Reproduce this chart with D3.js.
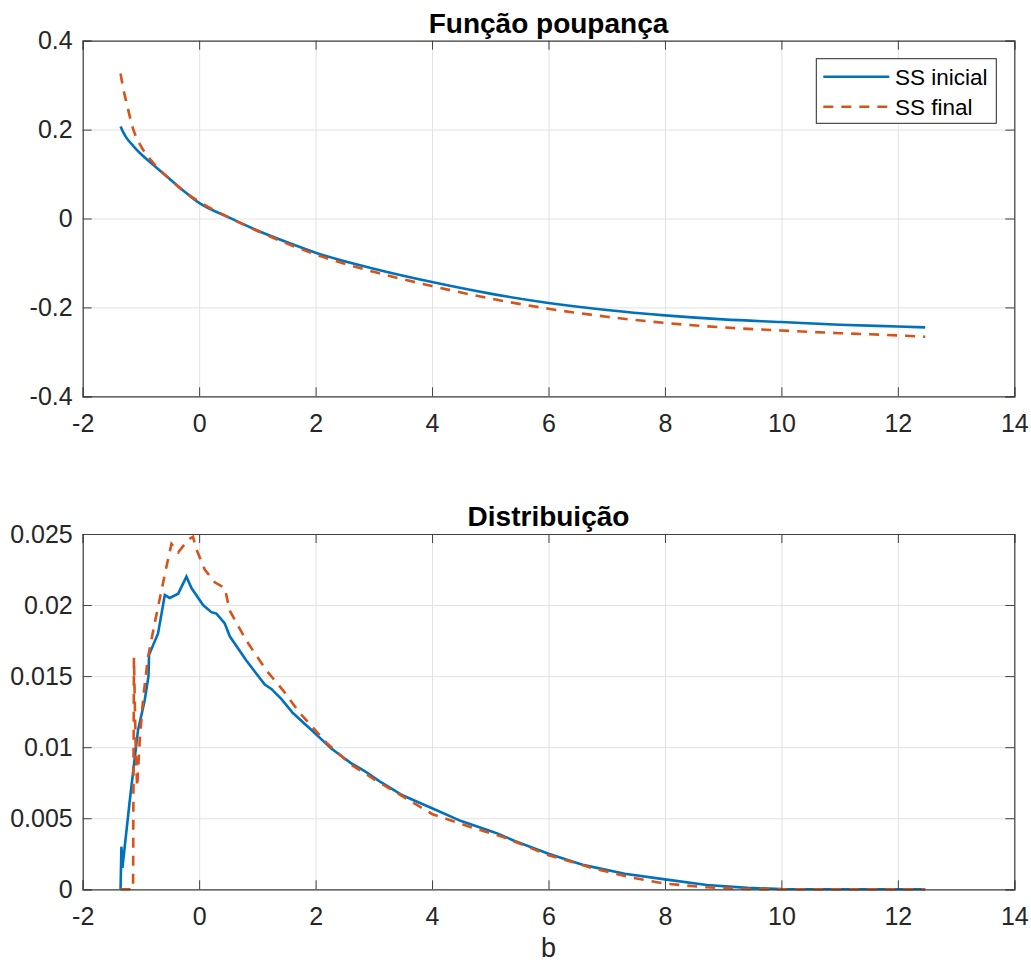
<!DOCTYPE html>
<html>
<head>
<meta charset="utf-8">
<script src="https://cdn.jsdelivr.net/npm/d3@7"></script>
<style>
  body { margin: 0; background: #fff; }
  svg { font-family: "Liberation Sans", Arial, Helvetica, sans-serif; }
  .axis path, .axis line { stroke: #404040; }
  .axis text { fill: #262626; font-size: 25px; }
  .grid line { stroke: #e2e2e2; stroke-width: 1; }
  .grid path { stroke: none; }
</style>
</head>
<body>
<svg id="chart" width="1031" height="962"></svg>
<script>
// tick labels
const xTicks = [-2, 0, 2, 4, 6, 8, 10, 12, 14];
const yTicksTop = [-0.4, -0.2, 0, 0.2, 0.4];
const yTicksBottom = [0, 0.005, 0.01, 0.015, 0.02, 0.025];
const seriesNames = ["SS inicial", "SS final"];

// Função poupança
const bTop = [-1.35, -1.3, -1.25, -1.13, -1.0, -0.8, -0.56, -0.3, 0, 0.5, 1, 1.5, 2, 3, 4, 5, 6, 7, 8, 9, 10, 11, 12, 12.47];
const savInicial = [0.207, 0.193, 0.182, 0.163, 0.145, 0.122, 0.095, 0.066, 0.035, 0.003, -0.027, -0.053, -0.077, -0.113, -0.143, -0.169, -0.190, -0.206, -0.218, -0.227, -0.233, -0.239, -0.243, -0.245];
const savFinal = [0.326, 0.29, 0.262, 0.200, 0.163, 0.127, 0.095, 0.065, 0.038, 0.003, -0.028, -0.056, -0.081, -0.120, -0.152, -0.180, -0.203, -0.221, -0.235, -0.245, -0.252, -0.258, -0.263, -0.266];

// Distribuição
const bDistInicial = [-1.35, -1.335, -1.318, -1.19, -1.05, -0.935, -0.87, -0.86, -0.706, -0.59, -0.505, -0.36, -0.218, -0.132, 0.067, 0.21, 0.297, 0.44, 0.526, 0.81, 1.127, 1.24, 1.41, 1.61, 1.957, 2.27, 2.6, 2.85, 3.1, 3.5, 4.0, 4.5, 5.0, 5.14, 5.42, 6.0, 6.61, 7.31, 8.0, 8.72, 9.42, 10.0, 11, 12, 12.47];
const distInicial = [0, 0.003, 0.0015, 0.0063, 0.0112, 0.0133, 0.0150, 0.0165, 0.018, 0.0207, 0.0205, 0.0208, 0.0220, 0.0212, 0.0200, 0.0195, 0.0194, 0.0187, 0.0178, 0.0161, 0.0144, 0.0141, 0.0134, 0.0124, 0.0111, 0.0099, 0.0089, 0.0083, 0.0076, 0.0066, 0.0057, 0.0048, 0.0041, 0.0039, 0.0034, 0.0025, 0.0017, 0.0011, 0.0007, 0.0003, 0.0001, 0.00002, 0, 0, 0];
const bDistFinal = [-1.35, -1.135, -1.12, -1.09, -1.065, -1.02, -0.96, -0.88, -0.75, -0.562, -0.476, -0.36, -0.19, -0.105, -0.046, 0.096, 0.268, 0.44, 0.526, 0.81, 1.155, 1.44, 1.73, 2.19, 2.6, 3.1, 4.0, 4.72, 5.21, 6.0, 6.75, 7.45, 8.0, 8.72, 9.42, 10, 11, 12, 12.47];
const distFinal = [0, 0, 0.0163, 0.0100, 0.0072, 0.0105, 0.0135, 0.0163, 0.0190, 0.0227, 0.0243, 0.0237, 0.0246, 0.0248, 0.0239, 0.0225, 0.0216, 0.0212, 0.0196, 0.0175, 0.0154, 0.0140, 0.0124, 0.0103, 0.0088, 0.0075, 0.0053, 0.0043, 0.0037, 0.0024, 0.0015, 0.0008, 0.0004, 0.00014, 0.00002, 0, 0, 0, 0];

const blue = "#0072BD", orange = "#D95319";
const svg = d3.select("#chart");
const left = 82.7, right = 1014.3;

function panel(top, bottom, yDomain, yTicks, title, series, curve) {
    const w = right - left, h = bottom - top;
    const x = d3.scaleLinear().domain([-2, 14]).range([0, w]);
    const y = d3.scaleLinear().domain(yDomain).range([h, 0]);
    const g = svg.append("g").attr("transform", `translate(${left},${top})`);

    // grid
    g.append("g").attr("class", "grid")
        .attr("transform", `translate(0,${h})`)
        .call(d3.axisBottom(x).tickValues(xTicks).tickSize(-h).tickFormat(""));
    g.append("g").attr("class", "grid")
        .call(d3.axisLeft(y).tickValues(yTicks).tickSize(-w).tickFormat(""));

    // lines
    const line = d3.line().x(d => x(d[0])).y(d => y(d[1])).curve(curve);
    series.forEach(s => {
        g.append("path")
            .datum(s.xs.map((v, i) => [v, s.ys[i]]))
            .attr("fill", "none")
            .attr("stroke", s.color)
            .attr("stroke-width", 2.6)
            .attr("stroke-dasharray", s.dash || null)
            .attr("d", line);
    });

    // axes, inward ticks on all four sides
    const fmt = d => String(d);
    g.append("g").attr("class", "axis")
        .attr("transform", `translate(0,${h})`)
        .call(d3.axisBottom(x).tickValues(xTicks).tickSize(-9).tickPadding(18).tickFormat(fmt));
    g.append("g").attr("class", "axis")
        .call(d3.axisTop(x).tickValues(xTicks).tickSize(-9).tickFormat(""));
    g.append("g").attr("class", "axis")
        .call(d3.axisLeft(y).tickValues(yTicks).tickSize(-9).tickPadding(10).tickFormat(fmt));
    g.append("g").attr("class", "axis")
        .attr("transform", `translate(${w},0)`)
        .call(d3.axisRight(y).tickValues(yTicks).tickSize(-9).tickFormat(""));
    g.selectAll(".axis path").attr("stroke-width", 1.2);

    g.append("text")
        .attr("x", w / 2).attr("y", -8)
        .attr("text-anchor", "middle")
        .style("font-weight", "bold").style("font-size", "28px")
        .attr("fill", "#000")
        .text(title);
    return g;
}

const g1 = panel(40.7, 396.3, [-0.4, 0.4], yTicksTop, "Função poupança", [
    { xs: bTop, ys: savInicial, color: blue },
    { xs: bTop, ys: savFinal, color: orange, dash: "10,8" }
], d3.curveMonotoneX);

panel(534, 889.3, [0, 0.025], yTicksBottom, "Distribuição", [
    { xs: bDistInicial, ys: distInicial, color: blue },
    { xs: bDistFinal, ys: distFinal, color: orange, dash: "10,8" }
], d3.curveLinear);

svg.append("text")
    .attr("x", (left + right) / 2).attr("y", 957)
    .attr("text-anchor", "middle")
    .style("font-size", "27px").attr("fill", "#262626")
    .text("b");

// legend
const lg = svg.append("g").attr("transform", "translate(816.3,58.7)");
lg.append("rect").attr("width", 180).attr("height", 64.6)
    .attr("fill", "#fff").attr("stroke", "#262626").attr("stroke-width", 1);
[{ c: blue }, { c: orange, dash: "10,8" }].forEach((s, i) => {
    const yy = 18 + i * 30;
    lg.append("line").attr("x1", 7).attr("x2", 73).attr("y1", yy).attr("y2", yy)
        .attr("stroke", s.c).attr("stroke-width", 2.6).attr("stroke-dasharray", s.dash || null);
    lg.append("text").attr("x", 78.7).attr("y", yy).attr("dy", "0.35em")
        .style("font-size", "22.5px").attr("fill", "#000")
        .text(seriesNames[i]);
});
</script>
</body>
</html>
